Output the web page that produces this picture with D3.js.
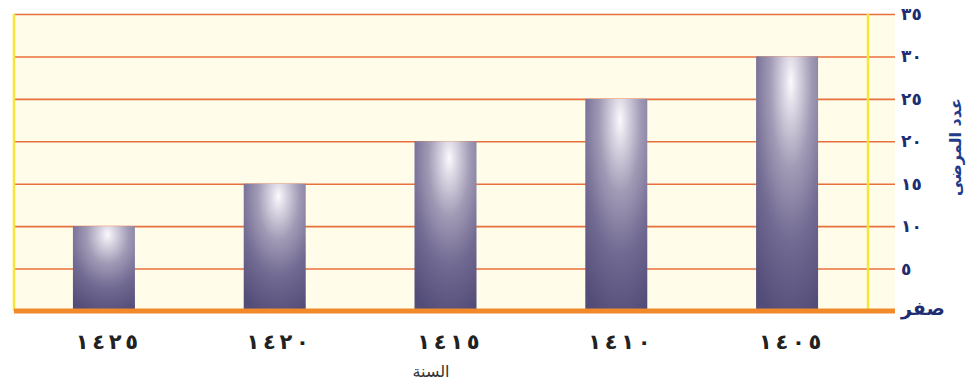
<!DOCTYPE html>
<html><head><meta charset="utf-8">
<script src="https://cdn.jsdelivr.net/npm/d3@7"></script>
<style>html,body{margin:0;padding:0;background:#fff;}svg{display:block;}</style>
</head><body>
<script>
const categories = ["١٤٢٥","١٤٢٠","١٤١٥","١٤١٠","١٤٠٥"];
const values = [10, 15, 20, 25, 30];
const yTicks = [0, 5, 10, 15, 20, 25, 30, 35];
const yTickLabels = ["صفر","٥","١٠","١٥","٢٠","٢٥","٣٠","٣٥"];
const xTitle = "السنة";
const yTitle = "عدد المرضى";

(function(){
const W = 972, H = 387;
const svg = d3.select("body").append("svg").attr("width", W).attr("height", H);
const defs = svg.append("defs");
const grad = defs.append("radialGradient").attr("id","barGrad")
  .attr("cx","0.56").attr("cy","0.12").attr("fx","0.56").attr("fy","0.1").attr("r","0.95");
[[0,"#fbfafd"],[0.12,"#dcd7e4"],[0.35,"#a29bb6"],[0.65,"#716a92"],[1,"#524c78"]]
  .forEach(([o,c]) => grad.append("stop").attr("offset",o).attr("stop-color",c));

const pLeft = 14, pRight = 868, gridRight = 895, pTop = 14, pBottom = 311;
const x = d3.scaleBand().domain(categories).range([14, 877]).paddingInner(0.637).paddingOuter(0.345);
const y = d3.scaleLinear().domain([0, 35]).range([pBottom, pTop]);

svg.append("rect").attr("x", pLeft).attr("y", pTop).attr("width", gridRight - pLeft).attr("height", pBottom - pTop)
  .attr("fill", "#fffde9");

const axis = d3.axisRight(y).tickValues(yTicks).tickSize(-(gridRight - pLeft)).tickPadding(6)
  .tickFormat((d,i) => yTickLabels[i]);
const gAxis = svg.append("g").attr("transform", `translate(${gridRight},0)`).call(axis);
gAxis.select(".domain").remove();
gAxis.selectAll(".tick line").attr("stroke", "#e8703c").attr("stroke-width", 1.6)
  .filter(d => d === 0).remove();
gAxis.selectAll(".tick text").attr("fill", "#1e2d72").attr("font-family", "DejaVu Sans")
  .attr("font-weight", "bold").attr("font-size", d => d === 0 ? 19 : 17)
  .attr("dy", d => d === 0 ? "0.2em" : "0.32em");

svg.append("line").attr("x1", pLeft).attr("x2", pLeft).attr("y1", pTop).attr("y2", pBottom)
  .attr("stroke", "#f6e63a").attr("stroke-width", 2.5);
svg.append("line").attr("x1", pRight).attr("x2", pRight).attr("y1", pTop).attr("y2", pBottom)
  .attr("stroke", "#f6e63a").attr("stroke-width", 2.5);

svg.append("g").selectAll("rect").data(values).join("rect")
  .attr("x", (d,i) => x(categories[i]))
  .attr("y", d => y(d))
  .attr("width", x.bandwidth())
  .attr("height", d => y(0) - y(d))
  .attr("fill", "url(#barGrad)");

svg.append("line").attr("x1", pLeft).attr("x2", gridRight).attr("y1", y(0)).attr("y2", y(0))
  .attr("stroke", "#f08a2a").attr("stroke-width", 5);

// category labels: digits spaced apart (letter-spacing is ignored for this script)
const labels = svg.append("g").selectAll("text").data(categories).join("text")
  .attr("y", 349)
  .attr("text-anchor", "middle")
  .attr("font-family", "DejaVu Sans").attr("font-size", 21).attr("font-weight", "bold")
  .attr("fill", "#222");
labels.each(function(d) {
  const cx = x(d) + x.bandwidth()/2 + 3;
  const chars = Array.from(d);
  d3.select(this).selectAll("tspan").data(chars).join("tspan")
    .attr("x", (c,i) => cx + (i - (chars.length - 1)/2) * 16.5)
    .text(c => c);
});

svg.append("text").attr("x", 431).attr("y", 377).attr("text-anchor", "middle")
  .attr("font-family", "DejaVu Sans").attr("font-size", 16).attr("fill", "#333").text(xTitle);

svg.append("text").attr("transform", "translate(961,147) rotate(-90)").attr("text-anchor", "middle")
  .attr("font-family", "DejaVu Sans").attr("font-weight", "bold").attr("font-size", 16)
  .attr("fill", "#1f3d8c").text(yTitle);
})();
</script>
</body></html>
